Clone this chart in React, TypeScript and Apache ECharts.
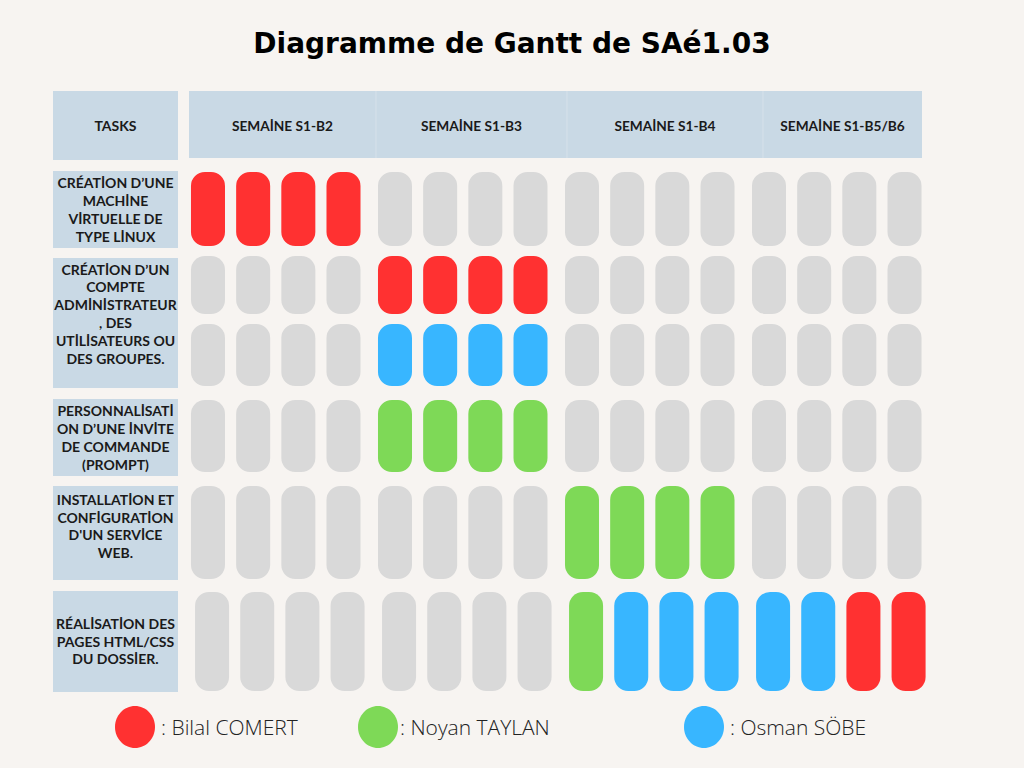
import React, { useEffect, useRef } from "react";
import * as echarts from "echarts";

// ---------- data ----------
const TITLE = "Diagramme de Gantt de SAé1.03";
const TASKS_HEADER = "TASKS";
const WEEKS = ["SEMAİNE S1-B2", "SEMAİNE S1-B3", "SEMAİNE S1-B4", "SEMAİNE S1-B5/B6"];
const TASKS = [
  "CRÉATİON D’UNE\nMACHİNE\nVİRTUELLE DE\nTYPE LİNUX",
  "CRÉATİON D’UN\nCOMPTE\nADMİNİSTRATEUR\n, DES\nUTİLİSATEURS OU\nDES GROUPES.",
  "PERSONNALİSATİ\nON D’UNE İNVİTE\nDE COMMANDE\n(PROMPT)",
  "INSTALLATİON ET\nCONFİGURATİON\nD'UN SERVİCE\nWEB.",
  "RÉALİSATİON DES\nPAGES HTML/CSS\nDU DOSSİER.",
];
const PEOPLE = ["Bilal COMERT", "Noyan TAYLAN", "Osman SÖBE"];
// which task each pill row belongs to
const ROW_TASK = [0, 1, 1, 2, 3, 4];
// -1 = free, 0 = Bilal, 1 = Noyan, 2 = Osman ; 4 slots per week, 4 weeks
const ROW0 = [0, 0, 0, 0, -1, -1, -1, -1, -1, -1, -1, -1, -1, -1, -1, -1];
const ROW1 = [-1, -1, -1, -1, 0, 0, 0, 0, -1, -1, -1, -1, -1, -1, -1, -1];
const ROW2 = [-1, -1, -1, -1, 2, 2, 2, 2, -1, -1, -1, -1, -1, -1, -1, -1];
const ROW3 = [-1, -1, -1, -1, 1, 1, 1, 1, -1, -1, -1, -1, -1, -1, -1, -1];
const ROW4 = [-1, -1, -1, -1, -1, -1, -1, -1, 1, 1, 1, 1, -1, -1, -1, -1];
const ROW5 = [-1, -1, -1, -1, -1, -1, -1, -1, 1, 2, 2, 2, 2, 2, 0, 0];
const SCHEDULE = [ROW0, ROW1, ROW2, ROW3, ROW4, ROW5];
const SLOTS_PER_WEEK = 4;

// ---------- layout / style ----------
const BG = "#f7f4f1";
const BOX = "#c9d9e5";
const SEP = "#d6e1ea";
const COLORS = ["#ff3131", "#7ed957", "#38b6ff"];
const FREE = "#d9d9d9";
const WEEK_STEP = 4.14; // axis units between week starts
const PILL_W = 0.753; // axis units
const PILL_R = 14;
const PILL_ROWS_Y = [
  [172, 246],
  [256, 314],
  [324, 386],
  [400, 472],
  [486, 579],
  [592, 691],
];
const ROW_SHIFT = [0, 0, 0, 0, 0, 0.09];
const TASK_BOX_Y = [
  [171, 248],
  [258, 388],
  [399, 476],
  [486, 580],
  [591, 692],
];
const TASK_TEXT_Y = [209.5, 313.5, 437.5, 526, 641];
const HEADER_EDGES = [189, 376, 567, 763, 922];
const LEGEND_X = [135, 378, 704];
const LEGEND_TEXT_X = [161, 400, 730];
const LABEL_FONT = "Lato";
const TITLE_FONT = "'DejaVu Sans'";

export default function App() {
  const ref = useRef<HTMLDivElement>(null);

  useEffect(() => {
    if (!ref.current) return;
    const chart = echarts.init(ref.current, undefined, { renderer: "svg" });

    const data: any[] = [];
    SCHEDULE.forEach((row, r) => {
      row.forEach((p, s) => {
        const week = Math.floor(s / SLOTS_PER_WEEK);
        const day = s % SLOTS_PER_WEEK;
        data.push([week * WEEK_STEP + day + ROW_SHIFT[r], r, p]);
      });
    });

    const graphics: any[] = [];
    graphics.push({
      type: "text",
      x: 512,
      y: 43,
      style: {
        text: TITLE,
        font: `bold 28px ${TITLE_FONT}`,
        fill: "#000",
        textAlign: "center",
        textVerticalAlign: "middle",
      },
    });
    // tasks header
    graphics.push({ type: "rect", shape: { x: 53, y: 91, width: 125, height: 69 }, style: { fill: BOX } });
    graphics.push({
      type: "text",
      x: 115.5,
      y: 125.5,
      style: { text: TASKS_HEADER, font: `bold 14px ${LABEL_FONT}`, fill: "#1a1a1a", textAlign: "center", textVerticalAlign: "middle" },
    });
    // week header
    graphics.push({
      type: "rect",
      shape: { x: HEADER_EDGES[0], y: 91, width: HEADER_EDGES[4] - HEADER_EDGES[0], height: 67 },
      style: { fill: BOX },
    });
    for (let i = 1; i < HEADER_EDGES.length - 1; i++) {
      graphics.push({
        type: "line",
        shape: { x1: HEADER_EDGES[i], y1: 91, x2: HEADER_EDGES[i], y2: 158 },
        style: { stroke: SEP, lineWidth: 1 },
      });
    }
    WEEKS.forEach((w, i) => {
      graphics.push({
        type: "text",
        x: (HEADER_EDGES[i] + HEADER_EDGES[i + 1]) / 2,
        y: 125,
        style: { text: w, font: `bold 13.7px ${LABEL_FONT}`, fill: "#1a1a1a", textAlign: "center", textVerticalAlign: "middle" },
      });
    });
    // task boxes
    TASKS.forEach((t, i) => {
      const [y0, y1] = TASK_BOX_Y[i];
      graphics.push({ type: "rect", shape: { x: 53, y: y0, width: 125, height: y1 - y0 }, style: { fill: BOX } });
      graphics.push({
        type: "text",
        x: 115.5,
        y: TASK_TEXT_Y[i],
        style: {
          text: t,
          font: `bold 14px ${LABEL_FONT}`,
          lineHeight: 17.8,
          fill: "#1a1a1a",
          textAlign: "center",
          textVerticalAlign: "middle",
        },
      });
    });
    // legend
    PEOPLE.forEach((p, i) => {
      graphics.push({
        type: "ellipse",
        shape: { cx: LEGEND_X[i], cy: 727, rx: 20, ry: 21 },
        style: { fill: COLORS[i] },
      });
      graphics.push({
        type: "text",
        x: LEGEND_TEXT_X[i],
        y: 727,
        style: {
          text: ": " + p,
          font: `300 21px 'Open Sans'`,
          fill: "#222",
          textAlign: "left",
          textVerticalAlign: "middle",
        },
      });
    });

    chart.setOption({
      animation: false,
      backgroundColor: BG,
      grid: { left: 185.4, width: 741.7, top: 0, height: 768 },
      xAxis: { type: "value", min: -0.5, max: 15.92, show: false },
      yAxis: { type: "value", min: 0, max: 768, inverse: true, show: false },
      graphic: graphics,
      series: [
        {
          type: "custom",
          clip: false,
          data,
          renderItem: (params: any, api: any) => {
            const x = api.value(0);
            const r = api.value(1);
            const p = api.value(2);
            const [t, b] = PILL_ROWS_Y[r];
            const top = api.coord([x, t]);
            const bot = api.coord([x, b]);
            const w = api.size([PILL_W, 0])[0];
            return {
              type: "rect",
              shape: { x: top[0] - w / 2, y: top[1], width: w, height: bot[1] - top[1], r: PILL_R },
              style: { fill: p < 0 ? FREE : COLORS[p] },
            };
          },
        },
      ],
    });

    return () => chart.dispose();
  }, []);

  return (
    <div
      ref={ref}
      style={{ position: "fixed", left: 0, top: 0, width: 1024, height: 768 }}
    />
  );
}
